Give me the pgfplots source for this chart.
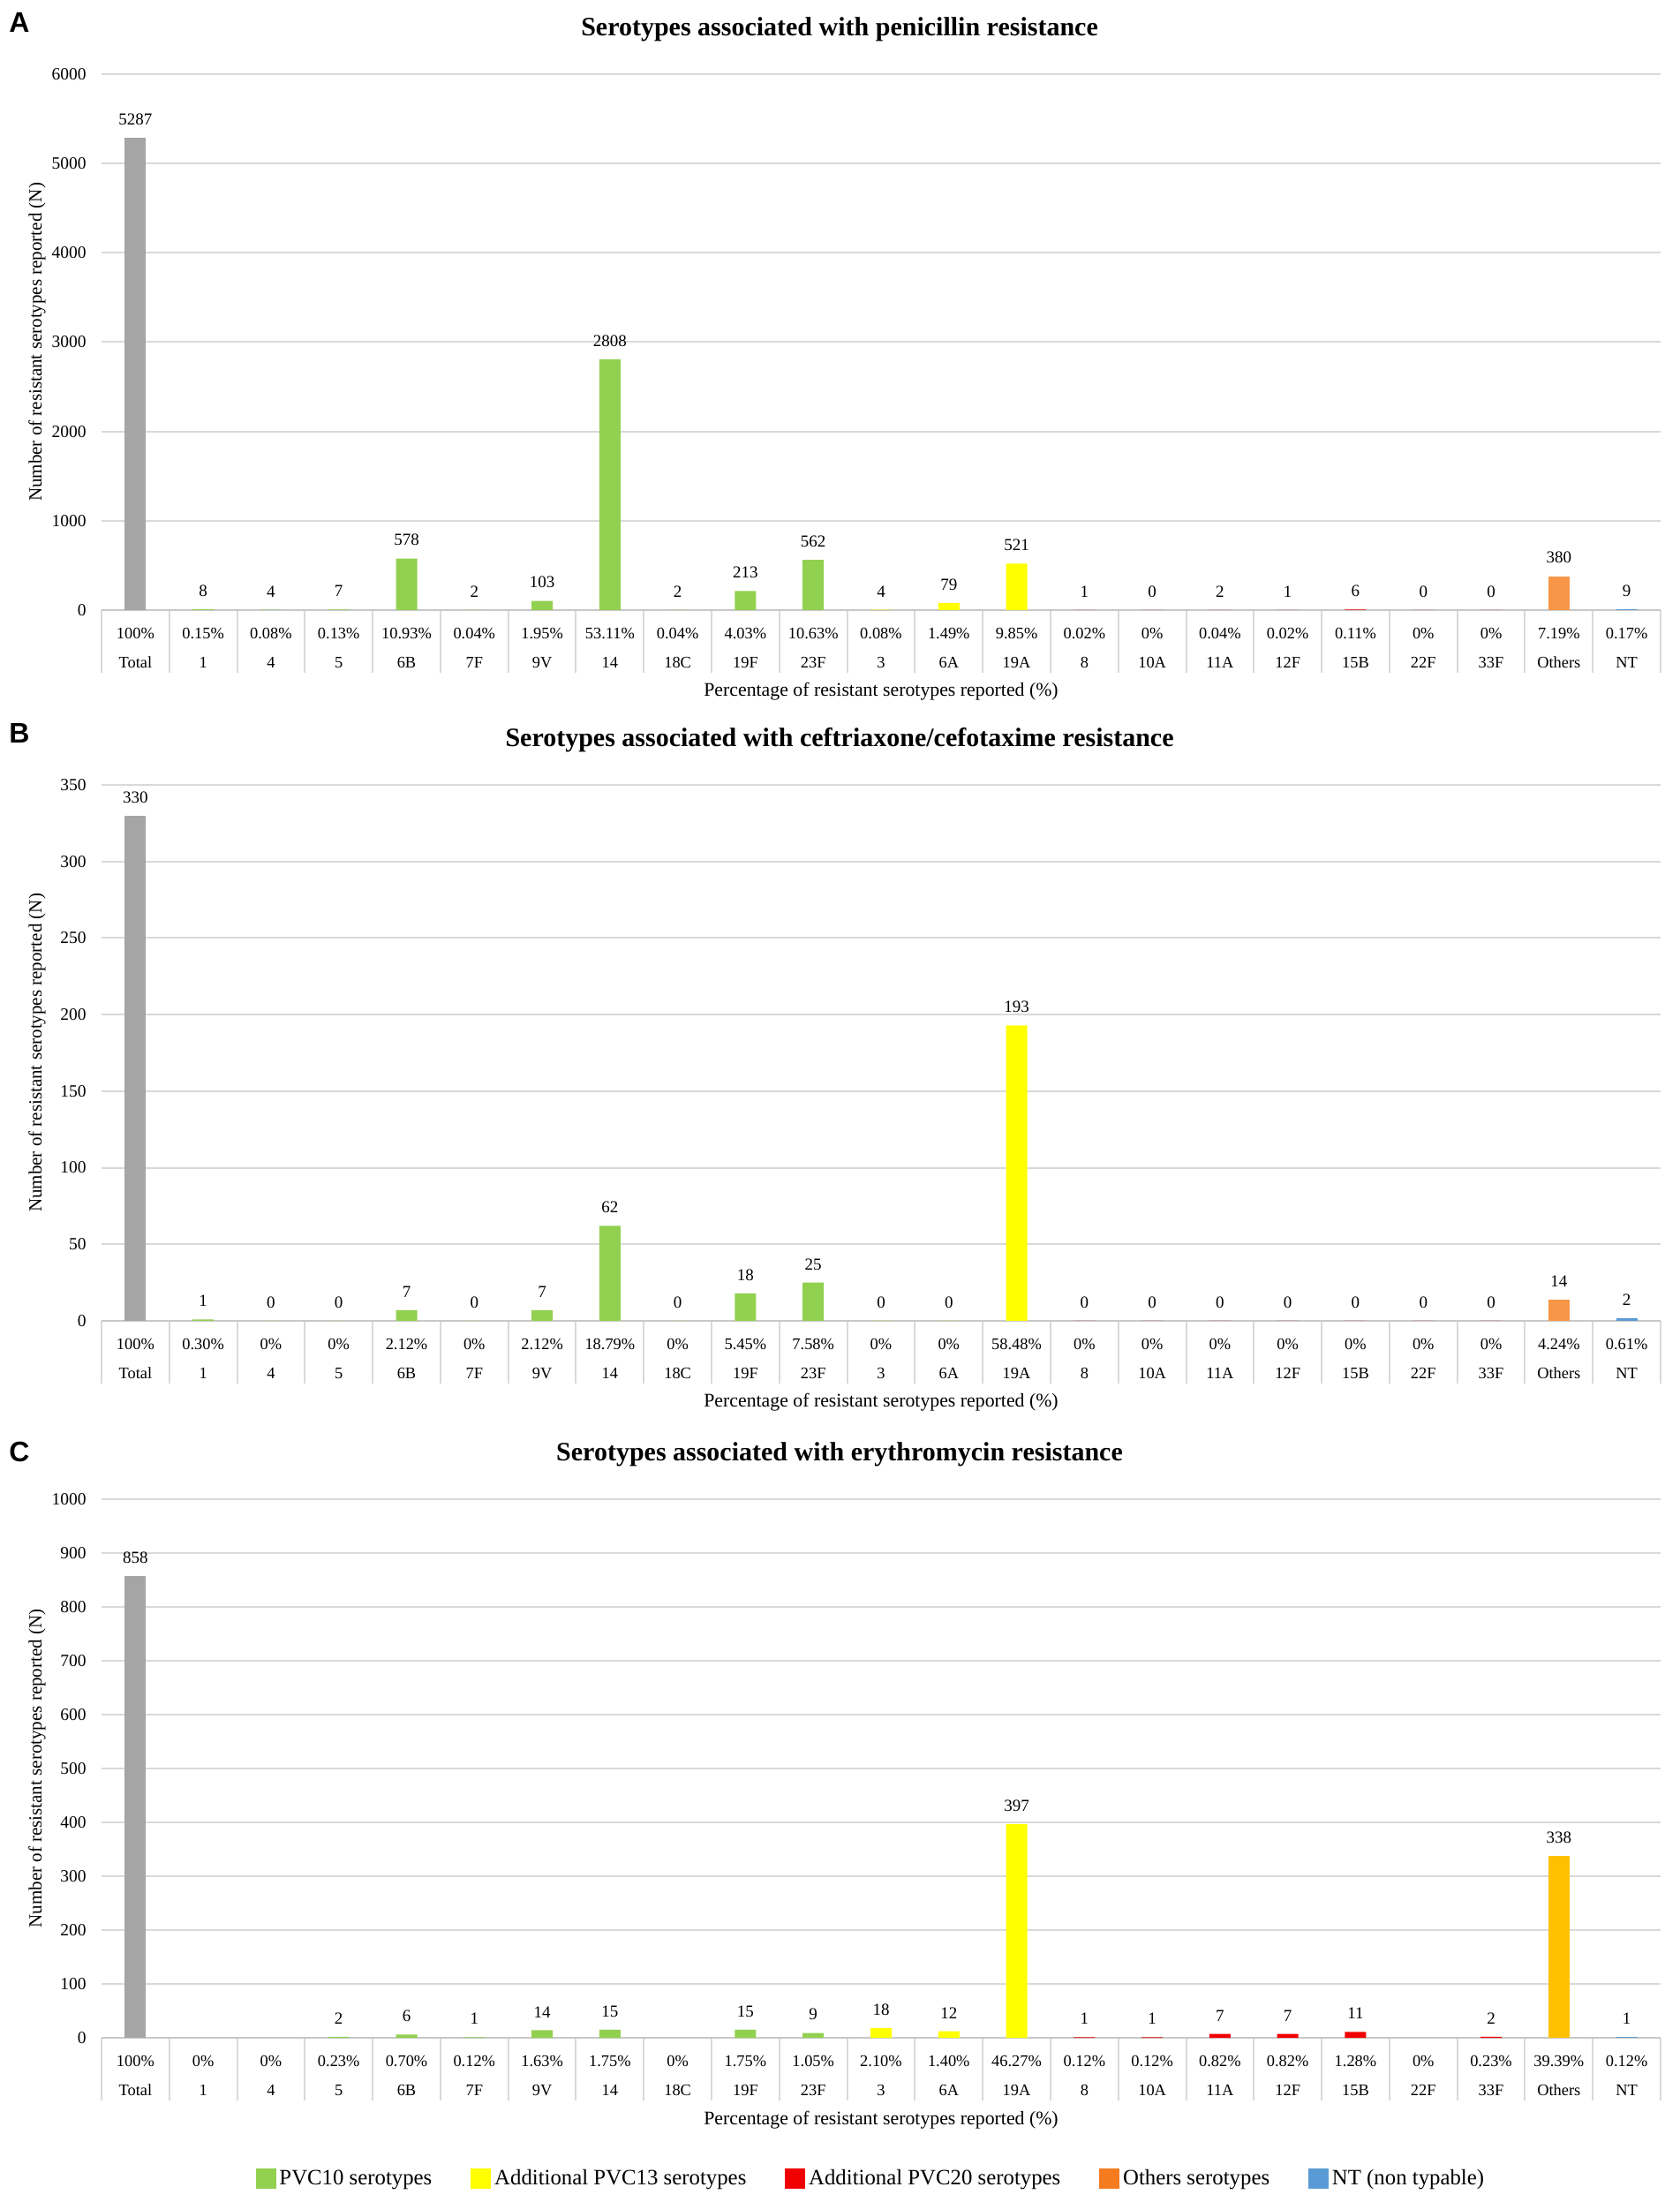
\documentclass[border=0pt]{standalone}
\usepackage{fontspec}
\setmainfont{Liberation Serif}
\newfontfamily\letterfont{Liberation Sans}
\newfontfamily\legendfont{Liberation Serif}
\usepackage{pgfplots}
\pgfplotsset{compat=1.18}

\definecolor{totgray}{HTML}{A5A5A5}
\definecolor{pvcgreen}{HTML}{92D050}
\definecolor{pvcyellow}{HTML}{FFFF00}
\definecolor{pvcred}{HTML}{F00000}
\definecolor{othorange}{HTML}{F79646}
\definecolor{othamber}{HTML}{FFC000}
\definecolor{ntblue}{HTML}{5B9BD5}
\definecolor{legorange}{HTML}{F47B20}
\definecolor{gridgray}{HTML}{D9D9D9}
\definecolor{axisgray}{HTML}{C8C8C8}

\pgfplotsset{
  panel/.style={
    scale only axis, width=883pt, height=303.5pt,
    xmin=-0.5, xmax=22.5, ymin=0,
    clip=false,
    axis x line*=bottom, axis y line*=left,
    x axis line style={draw=axisgray, line width=1pt},
    y axis line style={draw=none},
    xtick={0,...,22},
    minor xtick={-0.5,0.5,...,22.5},
    tick align=outside,
    major tick length=0pt,
    minor tick length=35.5pt,
    minor tick style={draw=gridgray, line width=1pt},
    ytick style={draw=none},
    ymajorgrids, grid style={draw=gridgray, line width=1pt},
    /pgf/number format/1000 sep={},
    /pgf/number format/assume math mode=true,
    xticklabel style={font=\rmfamily\fontsize{9.2}{16.5}\selectfont, align=center,
      anchor=north, inner sep=0pt, yshift=-9.8pt},
    yticklabel style={font=\rmfamily\fontsize{9.75}{11}\selectfont, anchor=east,
      inner sep=0pt, xshift=-8.5pt},
    title style={font=\rmfamily\fontsize{15}{18}\selectfont\bfseries,
      at={(axis description cs:0.4734,1)}, anchor=base, yshift=15.5pt},
    ylabel style={font=\rmfamily\fontsize{10.5}{12}\selectfont,
      at={(axis description cs:-0.0413,0.5)}, anchor=center},
    xlabel style={font=\rmfamily\fontsize{10.9}{12}\selectfont,
      at={(axis description cs:0.5,-0.1614)}, anchor=base},
    ylabel={Number of resistant serotypes reported (N)},
    xlabel={Percentage of resistant serotypes reported (\%)},
    nodes near coords,
    nodes near coords style={font=\rmfamily\fontsize{9.5}{11}\selectfont,
      anchor=south, inner sep=0pt, yshift=7pt},
  },
  bars/.style={ybar, bar width=12pt, bar shift=0pt, draw=none, fill=#1},
}

\begin{document}
\begin{tikzpicture}
\path[use as bounding box] (0pt,0pt) rectangle (951pt,1247pt);

% A: penicillin
\begin{axis}[panel, at={(57.5pt,901.5pt)}, anchor=south west,
  ymax=6000, ytick={0,1000,...,6000},
  title={Serotypes associated with penicillin resistance},
  xticklabels={{100\%\\Total},{0.15\%\\1},{0.08\%\\4},{0.13\%\\5},{10.93\%\\6B},{0.04\%\\7F},{1.95\%\\9V},{53.11\%\\14},{0.04\%\\18C},{4.03\%\\19F},{10.63\%\\23F},{0.08\%\\3},{1.49\%\\6A},{9.85\%\\19A},{0.02\%\\8},{0\%\\10A},{0.04\%\\11A},{0.02\%\\12F},{0.11\%\\15B},{0\%\\22F},{0\%\\33F},{7.19\%\\Others},{0.17\%\\NT}},
]
\addplot[bars=totgray] coordinates {(0,5287)};
\addplot[bars=pvcgreen] coordinates {(1,8) (2,4) (3,7) (4,578) (5,2) (6,103) (7,2808) (8,2) (9,213) (10,562)};
\addplot[bars=pvcyellow] coordinates {(11,4) (12,79) (13,521)};
\addplot[bars=pvcred] coordinates {(14,1) (15,0) (16,2) (17,1) (18,6) (19,0) (20,0)};
\addplot[bars=othorange] coordinates {(21,380)};
\addplot[bars=ntblue] coordinates {(22,9)};
\node at (rel axis cs:-0.0527,1.0956) {\letterfont\bfseries\fontsize{16}{18}\selectfont A};
\end{axis}

% B: ceftriaxone/cefotaxime
\begin{axis}[panel, at={(57.5pt,499pt)}, anchor=south west,
  ymax=350, ytick={0,50,...,350},
  title={Serotypes associated with ceftriaxone/cefotaxime resistance},
  xticklabels={{100\%\\Total},{0.30\%\\1},{0\%\\4},{0\%\\5},{2.12\%\\6B},{0\%\\7F},{2.12\%\\9V},{18.79\%\\14},{0\%\\18C},{5.45\%\\19F},{7.58\%\\23F},{0\%\\3},{0\%\\6A},{58.48\%\\19A},{0\%\\8},{0\%\\10A},{0\%\\11A},{0\%\\12F},{0\%\\15B},{0\%\\22F},{0\%\\33F},{4.24\%\\Others},{0.61\%\\NT}},
]
\addplot[bars=totgray] coordinates {(0,330)};
\addplot[bars=pvcgreen] coordinates {(1,1) (2,0) (3,0) (4,7) (5,0) (6,7) (7,62) (8,0) (9,18) (10,25)};
\addplot[bars=pvcyellow] coordinates {(11,0) (12,0) (13,193)};
\addplot[bars=pvcred] coordinates {(14,0) (15,0) (16,0) (17,0) (18,0) (19,0) (20,0)};
\addplot[bars=othorange] coordinates {(21,14)};
\addplot[bars=ntblue] coordinates {(22,2)};
\node at (rel axis cs:-0.0527,1.0956) {\letterfont\bfseries\fontsize{16}{18}\selectfont B};
\end{axis}

% C: erythromycin
\begin{axis}[panel, at={(57.5pt,93pt)}, anchor=south west, height=305pt,
  ymax=1000, ytick={0,100,...,1000},
  title={Serotypes associated with erythromycin resistance},
  xticklabels={{100\%\\Total},{0\%\\1},{0\%\\4},{0.23\%\\5},{0.70\%\\6B},{0.12\%\\7F},{1.63\%\\9V},{1.75\%\\14},{0\%\\18C},{1.75\%\\19F},{1.05\%\\23F},{2.10\%\\3},{1.40\%\\6A},{46.27\%\\19A},{0.12\%\\8},{0.12\%\\10A},{0.82\%\\11A},{0.82\%\\12F},{1.28\%\\15B},{0\%\\22F},{0.23\%\\33F},{39.39\%\\Others},{0.12\%\\NT}},
  legend columns=5,
  legend style={draw=none, fill=none, font=\legendfont\fontsize{12.4}{14}\selectfont,
    at={(axis description cs:0.494,-0.262)}, anchor=center,
    /tikz/every even column/.append style={column sep=20pt}},
]
\addplot[bars=totgray, forget plot] coordinates {(0,858)};
\addplot[bars=pvcgreen, forget plot] coordinates {(3,2) (4,6) (5,1) (6,14) (7,15) (9,15) (10,9)};
\addplot[bars=pvcyellow, forget plot] coordinates {(11,18) (12,12) (13,397)};
\addplot[bars=pvcred, forget plot] coordinates {(14,1) (15,1) (16,7) (17,7) (18,11) (20,2)};
\addplot[bars=othamber, forget plot] coordinates {(21,338)};
\addplot[bars=ntblue, forget plot] coordinates {(22,1)};
\addlegendimage{legend image code/.code={\fill[pvcgreen] (0pt,-5.5pt) rectangle (11pt,5.5pt);}}
\addlegendentry{\legendfont PVC10 serotypes}
\addlegendimage{legend image code/.code={\fill[pvcyellow] (0pt,-5.5pt) rectangle (11pt,5.5pt);}}
\addlegendentry{\legendfont Additional PVC13 serotypes}
\addlegendimage{legend image code/.code={\fill[pvcred] (0pt,-5.5pt) rectangle (11pt,5.5pt);}}
\addlegendentry{\legendfont Additional PVC20 serotypes}
\addlegendimage{legend image code/.code={\fill[legorange] (0pt,-5.5pt) rectangle (11pt,5.5pt);}}
\addlegendentry{\legendfont Others serotypes}
\addlegendimage{legend image code/.code={\fill[ntblue] (0pt,-5.5pt) rectangle (11pt,5.5pt);}}
\addlegendentry{\legendfont NT (non typable)}
\node at (rel axis cs:-0.0527,1.087) {\letterfont\bfseries\fontsize{16}{18}\selectfont C};
\end{axis}
\end{tikzpicture}
\end{document}
